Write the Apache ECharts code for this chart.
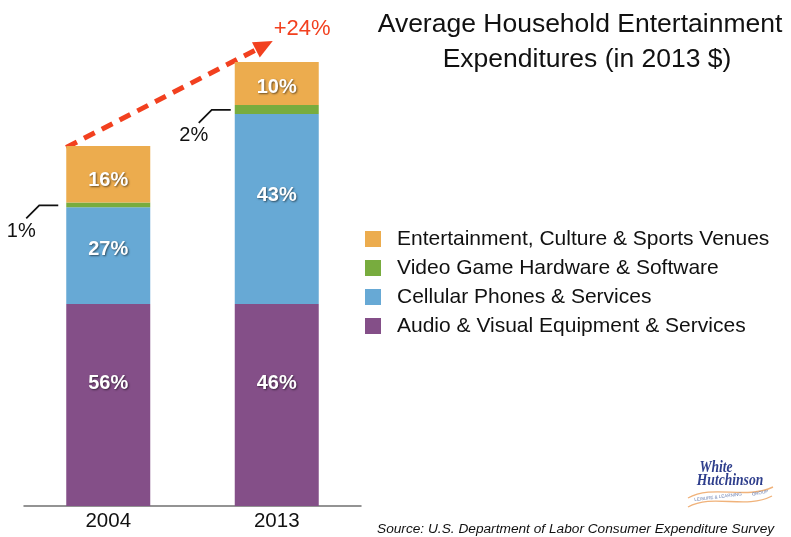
<!DOCTYPE html>
<html><head><meta charset="utf-8">
<script src="https://cdn.jsdelivr.net/npm/echarts@6/dist/echarts.min.js"></script>
<style>html,body{margin:0;padding:0;background:#fff}#c{width:791px;height:537px}</style>
</head><body><div id="c"></div>
<script>
// ---------- data (index: 2004 total = 100, in 2013 $) ----------
const categories = ['2004', '2013'];
const nameVenues = 'Entertainment, Culture & Sports Venues';
const nameGames = 'Video Game Hardware & Software';
const nameCellular = 'Cellular Phones & Services';
const nameAudio = 'Audio & Visual Equipment & Services';
const audioVisual = [56.1, 56.1];
const cellular = [26.9, 52.8];
const videoGames = [1.3, 2.5];
const venues = [15.7, 11.9];
const audioShare = ['56%', '46%'];
const cellularShare = ['27%', '43%'];
const gamesShare = ['1%', '2%'];
const venuesShare = ['16%', '10%'];
const growthLabel = '+24%';
const titleLines = ['Average Household Entertainment', 'Expenditures (in 2013 $)'];
const sourceText = 'Source: U.S. Department of Labor Consumer Expenditure Survey';

// ---------- styles ----------
const FONT = '"Liberation Sans", Arial, Helvetica, sans-serif';
const COLORS = { venues: '#ECAC4E', games: '#78AC3E', cellular: '#67A9D5', audio: '#844F88' };
const RED = '#F2401F';
const BAR_W = 84;
const labelDy = { audio: [-22, -22], cellular: [-6, -14], venues: [6, 4] };
const titleCenters = [575, 582];
const titleTops = [2, 37];

const chart = echarts.init(document.getElementById('c'));

function barLabel(shares) {
  return {
    show: true, position: 'inside', color: '#fff', fontFamily: FONT, fontWeight: 'bold', fontSize: 20,
    textShadowColor: 'rgba(0,0,0,0.55)', textShadowBlur: 2, textShadowOffsetX: 1, textShadowOffsetY: 1,
    formatter: p => shares[p.dataIndex]
  };
}
function withOffsets(values, dys) {
  return values.map((v, i) => ({ value: v, label: { offset: [0, dys[i]] } }));
}

chart.setOption({
  animation: false,
  backgroundColor: '#fff',
  title: titleLines.map((t, i) => ({
    text: t, left: titleCenters[i], top: titleTops[i], textAlign: 'center',
    textStyle: { fontFamily: FONT, fontSize: 26.5, fontWeight: 'normal', color: '#111', lineHeight: 35 }
  })),
  legend: {
    orient: 'vertical', left: 360, top: 223, icon: 'rect', itemWidth: 16, itemHeight: 16, itemGap: 7,
    data: [nameVenues, nameGames, nameCellular, nameAudio],
    textStyle: { fontFamily: FONT, fontSize: 21, color: '#111', lineHeight: 22, padding: [0, 0, 0, 11] },
    selectedMode: false
  },
  grid: { left: 24, top: 2, width: 337, bottom: 31 },
  xAxis: {
    type: 'category', data: categories,
    axisLine: { lineStyle: { color: '#707070', width: 1.5 } },
    axisTick: { show: false },
    axisLabel: { fontFamily: FONT, fontSize: 20.5, color: '#111', margin: 5 }
  },
  yAxis: { type: 'value', min: 0, max: 140, show: false, splitLine: { show: false } },
  series: [
    { name: nameAudio, type: 'bar', stack: 't', barWidth: BAR_W, itemStyle: { color: COLORS.audio },
      label: barLabel(audioShare), data: withOffsets(audioVisual, labelDy.audio) },
    { name: nameCellular, type: 'bar', stack: 't', barWidth: BAR_W, itemStyle: { color: COLORS.cellular },
      label: barLabel(cellularShare), data: withOffsets(cellular, labelDy.cellular) },
    { name: nameGames, type: 'bar', stack: 't', barWidth: BAR_W, itemStyle: { color: COLORS.games },
      label: { show: false }, data: videoGames },
    { name: nameVenues, type: 'bar', stack: 't', barWidth: BAR_W, itemStyle: { color: COLORS.venues },
      label: barLabel(venuesShare), data: withOffsets(venues, labelDy.venues) }
  ]
});

// ---------- annotations positioned from the axes ----------
const px = (cat, val) => chart.convertToPixel({ gridIndex: 0 }, [cat, val]);
const totals = categories.map((c, i) => audioVisual[i] + cellular[i] + videoGames[i] + venues[i]);
const graphics = [];

// leader lines for the thin video-game segments
const leaderGap = [8, 4];
categories.forEach((c, i) => {
  const mid = audioVisual[i] + cellular[i] + videoGames[i] / 2;
  const p = px(c, mid);
  const endX = p[0] - BAR_W / 2 - leaderGap[i];
  const kneeX = endX - 19, kneeY = p[1] + 0.5;
  const footX = kneeX - 13, footY = kneeY + 13;
  graphics.push({ type: 'polyline', silent: true,
    shape: { points: [[footX, footY], [kneeX, kneeY], [endX, kneeY]] },
    style: { stroke: '#111', lineWidth: 1.8, fill: null } });
  graphics.push({ type: 'text', silent: true, x: footX - 5, y: footY + 13,
    style: { text: gamesShare[i], font: '20px ' + FONT, fill: '#111', textAlign: 'center', textVerticalAlign: 'middle' } });
});

// growth arrow
const s = px(categories[0], totals[0]); s[0] -= BAR_W / 2; s[1] += 1.5;
const t = px(categories[1], totals[1]); t[0] -= 4; t[1] -= 21;
const dx = t[0] - s[0], dy = t[1] - s[1], len = Math.hypot(dx, dy);
const ux = dx / len, uy = dy / len, nx = -uy, ny = ux;
const headL = 19, headW = 8.5;
const bx = t[0] - headL * ux, by = t[1] - headL * uy;
graphics.push({ type: 'line', silent: true,
  shape: { x1: s[0], y1: s[1], x2: bx + 2 * ux, y2: by + 2 * uy },
  style: { stroke: RED, lineWidth: 5, lineDash: [12, 8] } });
graphics.push({ type: 'polygon', silent: true,
  shape: { points: [[t[0], t[1]], [bx + headW * nx, by + headW * ny], [bx - headW * nx, by - headW * ny]] },
  style: { fill: RED } });
graphics.push({ type: 'text', silent: true, x: t[0] + 1, y: t[1] - 12,
  style: { text: growthLabel, font: '22px ' + FONT, fill: RED, textAlign: 'left', textVerticalAlign: 'middle' } });

// source note
graphics.push({ type: 'text', silent: true, x: 377, y: 529,
  style: { text: sourceText, font: 'italic 13.7px ' + FONT, fill: '#111', textAlign: 'left', textVerticalAlign: 'middle' } });

// logo
graphics.push({ type: 'group', silent: true, children: [
  { type: 'bezierCurve', shape: { x1: 688, y1: 498, cpx1: 713, cpy1: 484, cpx2: 745, cpy2: 500, x2: 773, y2: 487 },
    style: { stroke: '#F0B27A', lineWidth: 1.4, fill: null } },
  { type: 'bezierCurve', shape: { x1: 688, y1: 507, cpx1: 713, cpy1: 493, cpx2: 745, cpy2: 510, x2: 772, y2: 496 },
    style: { stroke: '#F0B27A', lineWidth: 1.4, fill: null } },
  { type: 'text', x: 716, y: 468, scaleX: 0.85,
    style: { text: 'White', font: 'italic bold 16px "Liberation Serif", serif', fill: '#2E3E8C', textAlign: 'center', textVerticalAlign: 'middle' } },
  { type: 'text', x: 730, y: 481, scaleX: 0.85,
    style: { text: 'Hutchinson', font: 'italic bold 16px "Liberation Serif", serif', fill: '#2E3E8C', textAlign: 'center', textVerticalAlign: 'middle' } },
  { type: 'text', x: 718, y: 497, rotation: 0.12,
    style: { text: 'LEISURE & LEARNING', font: '4.5px ' + FONT, fill: '#6A7FB0', textAlign: 'center', textVerticalAlign: 'middle' } },
  { type: 'text', x: 760, y: 493, rotation: 0.2,
    style: { text: 'GROUP', font: '4.5px ' + FONT, fill: '#6A7FB0', textAlign: 'center', textVerticalAlign: 'middle' } }
]});

chart.setOption({ graphic: graphics });
</script>
</body></html>
